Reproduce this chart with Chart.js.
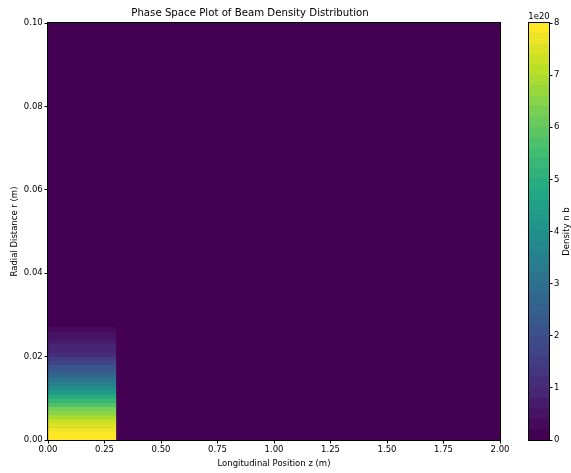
<!DOCTYPE html>
<html>
<head>
<meta charset="utf-8">
<script src="https://cdn.jsdelivr.net/npm/chart.js@4.4.0/dist/chart.umd.min.js"></script>
<style>
  html, body { margin: 0; padding: 0; background: #fff; }
  #wrap { position: relative; width: 571px; height: 473px; }
  #main { position: absolute; left: 0; top: 0; }
  #cbar { position: absolute; left: 510px; top: 0; }
</style>
</head>
<body>
<div id="wrap">
  <canvas id="main" width="548" height="473"></canvas>
  <canvas id="cbar" width="61" height="473"></canvas>
</div>
<script>
// data (density in units of 1e20)
var beamZ = [0, 0.3];
var rCenters = [0.0005, 0.0015, 0.0025, 0.0035, 0.0045, 0.0055, 0.0065, 0.0075, 0.0085,
  0.0095, 0.0105, 0.0115, 0.0125, 0.0135, 0.0145, 0.0155, 0.0165, 0.0175, 0.0185,
  0.0195, 0.0205, 0.0215, 0.0225, 0.0235, 0.0245, 0.0255, 0.0265];
var density = [7.99, 7.92, 7.78, 7.57, 7.30, 6.97, 6.60, 6.20, 5.76,
  5.31, 4.85, 4.39, 3.94, 3.50, 3.08, 2.69, 2.32, 2.00, 1.70,
  1.43, 1.19, 0.98, 0.81, 0.65, 0.53, 0.42, 0.33];
var xTicks = [0, 0.25, 0.5, 0.75, 1, 1.25, 1.5, 1.75, 2];
var yTicks = [0, 0.02, 0.04, 0.06, 0.08, 0.1];
var cbTicks = [0, 1, 2, 3, 4, 5, 6, 7, 8];

// colour levels like contourf
var levelStep = 0.2;
var nLevels = 40;

var viridisStops = ["#440154", "#482475", "#414487", "#355f8d", "#2a788e", "#21918c",
  "#22a884", "#44bf70", "#7ad151", "#bddf26", "#fde725"];

function hexRgb(h) {
  return [parseInt(h.substr(1, 2), 16), parseInt(h.substr(3, 2), 16), parseInt(h.substr(5, 2), 16)];
}
function viridis(t) {
  t = Math.max(0, Math.min(1, t));
  var p = t * (viridisStops.length - 1);
  var i = Math.min(Math.floor(p), viridisStops.length - 2);
  var f = p - i;
  var a = hexRgb(viridisStops[i]), b = hexRgb(viridisStops[i + 1]);
  var c = a.map(function (v, j) { return Math.round(v + (b[j] - v) * f); });
  return "rgb(" + c.join(",") + ")";
}
function levelColor(v) {
  var k = Math.min(nLevels - 1, Math.floor(v / levelStep));
  return viridis(k / (nLevels - 1));
}

Chart.defaults.font.family = "DejaVu Sans";
Chart.defaults.font.size = 8.5;
Chart.defaults.color = "#000";

var fixTicks = function (list) {
  return function (scale) {
    scale.ticks = list.map(function (v) { return { value: v }; });
  };
};

var frame = {
  id: "frame",
  beforeDatasetsDraw: function (chart) {
    // zero level fills the whole area
    var a = chart.chartArea, c = chart.ctx;
    c.save();
    c.fillStyle = levelColor(0);
    c.fillRect(a.left, a.top, a.right - a.left, a.bottom - a.top);
    c.restore();
  },
  afterDraw: function (chart) {
    var a = chart.chartArea, c = chart.ctx;
    c.save();
    c.strokeStyle = "#000";
    c.lineWidth = 1;
    c.strokeRect(a.left - 0.5, a.top - 0.5, a.right - a.left + 1, a.bottom - a.top + 1);
    if (chart.canvas.id === "cbar") {
      c.fillStyle = "#000";
      c.font = "8.5px 'DejaVu Sans'";
      c.textAlign = "center";
      c.textBaseline = "middle";
      c.fillText("1e20", (a.left + a.right) / 2, a.top - 6);
      c.translate(56.5, (a.top + a.bottom) / 2);
      c.rotate(-Math.PI / 2);
      c.fillText("Density n b", 0, 0);
    }
    c.restore();
  }
};

// heat map
var ctx = document.getElementById("main").getContext("2d");
var heatChart = new Chart(ctx, {
  type: "bar",
  data: {
    datasets: [{
      data: rCenters.map(function (r) { return { y: r, x: beamZ }; }),
      backgroundColor: density.map(levelColor),
      borderWidth: 0,
      barPercentage: 1,
      categoryPercentage: 1
    }]
  },
  options: {
    indexAxis: "y",
    responsive: false,
    animation: false,
    layout: { padding: { left: 0, right: 48, top: 0, bottom: 0 } },
    plugins: {
      legend: { display: false },
      tooltip: { enabled: false },
      title: {
        display: true,
        text: "Phase Space Plot of Beam Density Distribution",
        font: { size: 10.2, weight: "normal" },
        color: "#000",
        padding: { top: 6.9, bottom: 3.86 }
      }
    },
    scales: {
      x: {
        type: "linear",
        min: 0,
        max: 2,
        offset: false,
        afterBuildTicks: fixTicks(xTicks),
        afterFit: function (s) { s.height = 33; },
        grid: { drawOnChartArea: false, tickLength: 3.5, tickColor: "#000", offset: false },
        border: { display: false },
        ticks: { padding: 1.4, maxRotation: 0, callback: function (v) { return v.toFixed(2); } },
        title: { display: true, text: "Longitudinal Position z (m)", padding: { top: 0, bottom: 3.9 } }
      },
      y: {
        type: "linear",
        min: 0,
        max: 0.1,
        offset: false,
        afterBuildTicks: fixTicks(yTicks),
        afterFit: function (s) { s.width = 48; },
        grid: { drawOnChartArea: false, tickLength: 3.5, tickColor: "#000", offset: false },
        border: { display: false },
        ticks: { padding: 1.8, callback: function (v) { return v.toFixed(2); } },
        title: { display: true, text: "Radial Distance r (m)", padding: { top: 9.9, bottom: 0 } }
      }
    }
  },
  plugins: [frame]
});

// colour bar
var cbDatasets = [];
for (var k = 0; k < nLevels; k++) {
  cbDatasets.push({
    data: [levelStep],
    backgroundColor: viridis(k / (nLevels - 1)),
    borderWidth: 0,
    barPercentage: 1,
    categoryPercentage: 1
  });
}
var ctx2 = document.getElementById("cbar").getContext("2d");
var cbarChart = new Chart(ctx2, {
  type: "bar",
  data: { labels: [""], datasets: cbDatasets },
  options: {
    responsive: false,
    animation: false,
    layout: { padding: { left: 19, right: 0, top: 23, bottom: 33 } },
    plugins: { legend: { display: false }, tooltip: { enabled: false } },
    scales: {
      x: { stacked: true, display: false },
      y: {
        stacked: true,
        position: "right",
        min: 0,
        max: 8,
        afterBuildTicks: fixTicks(cbTicks),
        afterFit: function (s) { s.width = 22; },
        grid: { drawOnChartArea: false, tickLength: 3.5, tickColor: "#000" },
        border: { display: false },
        ticks: { padding: 1.5 }
      }
    }
  },
  plugins: [frame]
});
</script>
</body>
</html>
